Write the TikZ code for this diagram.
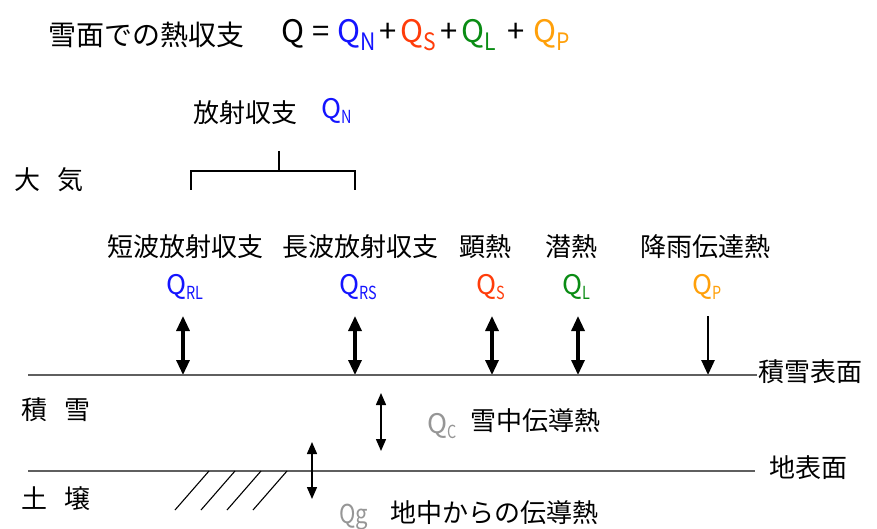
\documentclass[tikz,border=0pt]{standalone}
\usepackage{fontspec}
\setmainfont{Noto Sans CJK JP}
\usetikzlibrary{arrows.meta}
\definecolor{qblue}{RGB}{20,20,255}
\definecolor{qred}{RGB}{255,60,10}
\definecolor{qgreen}{RGB}{10,140,20}
\definecolor{qorange}{RGB}{255,160,10}
\definecolor{qgray}{RGB}{150,150,150}
\definecolor{lgray}{RGB}{95,95,95}
\newcommand{\titq}[2]{{\color{#1}Q\raisebox{-8pt}{\scalebox{0.88}[1]{\fontsize{24}{24}\selectfont #2}}}}
\newcommand{\labq}[2]{{\color{#1}\fontsize{27}{27}\selectfont Q\raisebox{-5pt}{\scalebox{0.8}[1]{\fontsize{18}{18}\selectfont #2}}}}
\tikzset{
  dblarrow/.style={line width=3.2pt,{Triangle[length=15pt,width=13pt]}-{Triangle[length=15pt,width=13pt]}},
  sglarrow/.style={line width=2.6pt,-{Triangle[length=15pt,width=13pt]}},
  thinarrow/.style={line width=1.5pt,{Triangle[length=12pt,width=10pt]}-{Triangle[length=12pt,width=10pt]}},
  surf/.style={line width=2pt,draw=lgray},
  gnd/.style={line width=1.4pt,draw=lgray},
  bracket/.style={line width=1.2pt,draw=black},
  hatch/.style={line width=1.1pt,draw=black},
  lab/.style={font=\fontsize{26}{26}\selectfont,anchor=west,inner sep=0pt},
  qlab/.style={anchor=base west,inner sep=0pt},
}
\begin{document}
\begin{tikzpicture}[x=1pt,y=-1pt]
\useasboundingbox (0,0) rectangle (877,529);
% title
\node[lab,font=\fontsize{28}{28}\selectfont] (title) at (48,35) {雪面での熱収支};
\node[qlab,font=\fontsize{31}{31}\selectfont] (formula) at (281,43) {Q\hspace{8pt}=\hspace{8pt}\titq{qblue}{N}\hspace{4pt}+\hspace{4pt}\titq{qred}{S}\hspace{4pt}+\hspace{4pt}\titq{qgreen}{L}\hspace{11pt}+\hspace{9pt}\titq{qorange}{P}};
% radiation balance
\node[lab] (rad) at (193,113) {放射収支};
\node[qlab] (qn) at (321,119) {\labq{qblue}{N}};
\coordinate (bt) at (279,151);
\coordinate (bm) at (279,171);
\coordinate (bl) at (191,171);
\coordinate (br) at (355,171);
\coordinate (bld) at (191,190);
\coordinate (brd) at (355,190);
\draw[bracket] (bt) -- (bm);
\draw[bracket] (bld) -- (bl) -- (br) -- (brd);
% atmosphere
\node[lab] (atm) at (14,180) {大\hspace{17pt}気};
% labels
\node[lab] (sw) at (107,247) {短波放射収支};
\node[lab] (lw) at (282,247) {長波放射収支};
\node[lab] (sh) at (459,247) {顕熱};
\node[lab] (lh) at (545,247) {潜熱};
\node[lab] (rh) at (640,247) {降雨伝達熱};
\node[qlab] (qrl) at (166,294) {\labq{qblue}{RL}};
\node[qlab] (qrs) at (339,294) {\labq{qblue}{RS}};
\node[qlab] (qs) at (476,294) {\labq{qred}{S}};
\node[qlab] (ql) at (562,294) {\labq{qgreen}{L}};
\node[qlab] (qp) at (692,294) {\labq{qorange}{P}};
% arrows
\coordinate (a1t) at (183,316); \coordinate (a1b) at (183,375);
\coordinate (a2t) at (355,316); \coordinate (a2b) at (355,375);
\coordinate (a3t) at (492,316); \coordinate (a3b) at (492,375);
\coordinate (a4t) at (578,316); \coordinate (a4b) at (578,375);
\coordinate (a5t) at (708,316); \coordinate (a5b) at (708,375);
\draw[dblarrow] (a1t) -- (a1b);
\draw[dblarrow] (a2t) -- (a2b);
\draw[dblarrow] (a3t) -- (a3b);
\draw[dblarrow] (a4t) -- (a4b);
\draw[sglarrow] (a5t) -- (a5b);
% snow surface
\coordinate (s1) at (28,375); \coordinate (s2) at (757,375);
\draw[surf] (s1) -- (s2);
\node[lab] (snowsurf) at (758,372) {積雪表面};
\node[lab] (snow) at (21,410) {積\hspace{17pt}雪};
% conduction in snow
\coordinate (ct) at (381,393); \coordinate (cb) at (381,451);
\draw[thinarrow] (ct) -- (cb);
\node[qlab] (qc) at (427,433) {\labq{qgray}{C}};
\node[lab] (cond) at (470,421) {雪中伝導熱};
% ground surface
\coordinate (g1) at (28,471); \coordinate (g2) at (755,471);
\draw[gnd] (g1) -- (g2);
\node[lab] (gsurf) at (769,468) {地表面};
\node[lab] (soil) at (21,499) {土\hspace{17pt}壌};
\foreach \i in {0,1,2,3} {
  \coordinate (h\i a) at (175+26*\i,510);
  \coordinate (h\i b) at (209+26*\i,471);
  \draw[hatch] (h\i a) -- (h\i b);
}
\coordinate (gt) at (312,442); \coordinate (gb) at (312,499);
\draw[thinarrow] (gt) -- (gb);
\node[qlab,font=\fontsize{26}{26}\selectfont,text=qgray] (qg) at (339,523) {\scalebox{0.85}[1]{Qg}};
\node[lab] (gcond) at (390,513) {地中からの伝導熱};
\end{tikzpicture}
\end{document}
